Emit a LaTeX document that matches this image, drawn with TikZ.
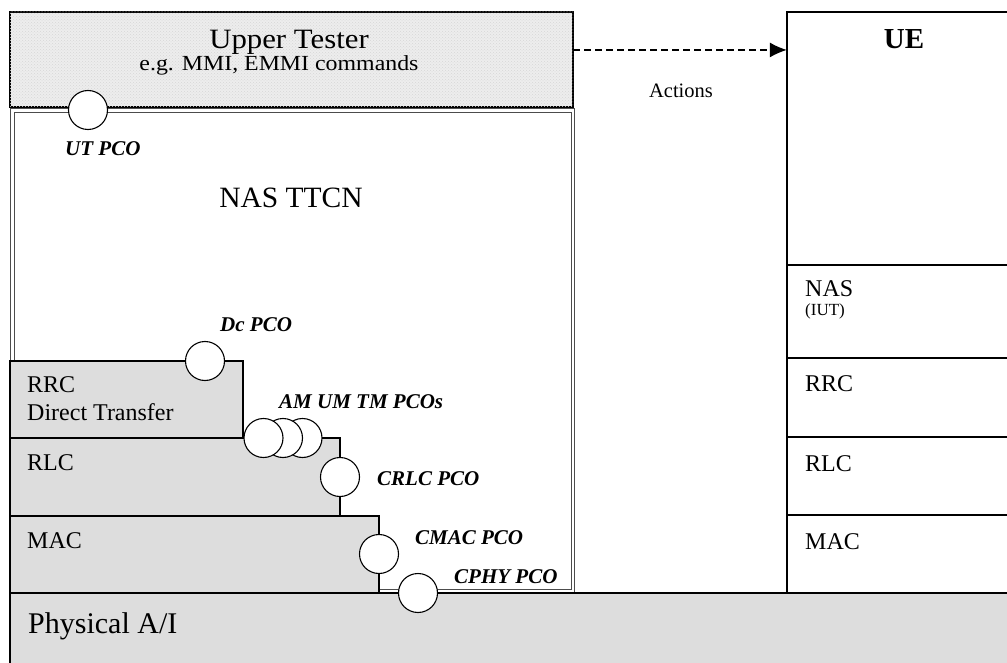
\documentclass[tikz,border=0pt]{standalone}
\usepackage{fontspec}
\setmainfont{Liberation Serif}
\usetikzlibrary{patterns,arrows.meta,calc}
\definecolor{layergray}{HTML}{DDDDDD}
\begin{document}
\begin{tikzpicture}[x=1pt,y=-1pt,
  boxline/.style={draw=black, line width=1.1pt},
  layer/.style={boxline, fill=layergray},
  pco/.style={circle, draw=black, line width=1.1pt, fill=white, minimum size=39pt, inner sep=0pt},
  pcolbl/.style={font=\fontsize{21}{24}\selectfont\bfseries\itshape, inner sep=0pt, anchor=base west},
  lbl/.style={font=\fontsize{24}{28}\selectfont, inner sep=0pt, anchor=base west},
  small/.style={font=\fontsize{17}{20}\selectfont, inner sep=0pt, anchor=base west},
  actarrow/.style={line width=1.2pt, dash pattern=on 7pt off 4pt, -{Latex[length=17pt,width=15pt]}},
]
\clip (0,0) rectangle (1007,663);
\fill[white] (0,0) rectangle (1007,663);

% NAS TTCN box (double border)
\draw[draw=black!70, line width=1pt] (10,109) rectangle (574.5,592.5);
\draw[draw=black!70, line width=1pt] (14,113) rectangle (571,589);
\node[inner sep=0pt, anchor=base, font=\fontsize{29.5}{34}\selectfont] (nastxt) at (291,208) {NAS TTCN};

% Upper Tester
\path[boxline, fill=black!7, postaction={pattern=crosshatch dots, pattern color=black!16}] (10,12) rectangle (573,107);
\node[inner sep=0pt, minimum width=563pt, minimum height=95pt] (ut) at (291.5,59.5) {};
\node[inner sep=0pt, anchor=base, xscale=1.1, font=\fontsize{28}{33}\selectfont] (uttxt) at (289,49) {Upper Tester};
\node[inner sep=0pt, anchor=base, xscale=1.11, font=\fontsize{21.5}{25}\selectfont] (utsub) at (279,71) {e.g. MMI, EMMI commands};

% UE column
\draw[boxline] (787,12) rectangle (1030,593);
\node[inner sep=0pt, minimum width=243pt, minimum height=581pt] (ue) at (908.5,302.5) {};
\draw[boxline] (787,265) -- (1030,265);
\draw[boxline] (787,358) -- (1030,358);
\draw[boxline] (787,437) -- (1030,437);
\draw[boxline] (787,515) -- (1030,515);
\node[inner sep=0pt, anchor=base, font=\fontsize{29}{34}\selectfont\bfseries] (uetxt) at (904,49) {UE};
\node[lbl] (uenas) at (805,297) {NAS};
\node[small] (ueiut) at (805,316) {(IUT)};
\node[lbl] (uerrc) at (805,391) {RRC};
\node[lbl] (uerlc) at (805,471) {RLC};
\node[lbl] (uemac) at (805,549) {MAC};

% Actions arrow
\coordinate (a1) at ($(ut.north east)!0.4!(ut.south east)$);
\draw[actarrow] (a1) -- (a1 -| ue.west);
\node[inner sep=0pt, anchor=base, font=\fontsize{20.5}{24}\selectfont] (act) at (681,98) {Actions};

% Left protocol stack
\draw[layer] (10,361) rectangle (243,438);
\draw[layer] (10,438) rectangle (340,516);
\draw[layer] (10,516) rectangle (379,593);
\node[lbl] (rrc) at (27,392) {RRC};
\node[lbl] (dt) at (27,420) {Direct Transfer};
\node[lbl] (rlc) at (27,470) {RLC};
\node[lbl] (mac) at (27,548) {MAC};

% Physical A/I
\draw[layer] (10,593) rectangle (1030,700);
\node[inner sep=0pt, anchor=base west, font=\fontsize{30}{35}\selectfont] (phy) at (28,633) {Physical A/I};

% PCOs
\node[pco] (utpco) at (88,110) {};
\node[pcolbl] (utl) at (65,156) {UT PCO};
\node[pco] (dcpco) at (205,361) {};
\node[pcolbl] (dcl) at (220,331) {Dc PCO};
\node[pco] (tmpco) at (302.5,438) {};
\node[pco] (umpco) at (283,438) {};
\node[pco] (ampco) at (263.5,438) {};
\node[pcolbl] (amuml) at (279,408) {AM UM TM PCOs};
\node[pco] (crlcpco) at (340,477) {};
\node[pcolbl] (crlcl) at (377,485) {CRLC PCO};
\node[pco] (cmacpco) at (379,554) {};
\node[pcolbl] (cmacl) at (415,544) {CMAC PCO};
\node[pco] (cphypco) at (418,593) {};
\node[pcolbl] (cphyl) at (454,583) {CPHY PCO};
\end{tikzpicture}
\end{document}
